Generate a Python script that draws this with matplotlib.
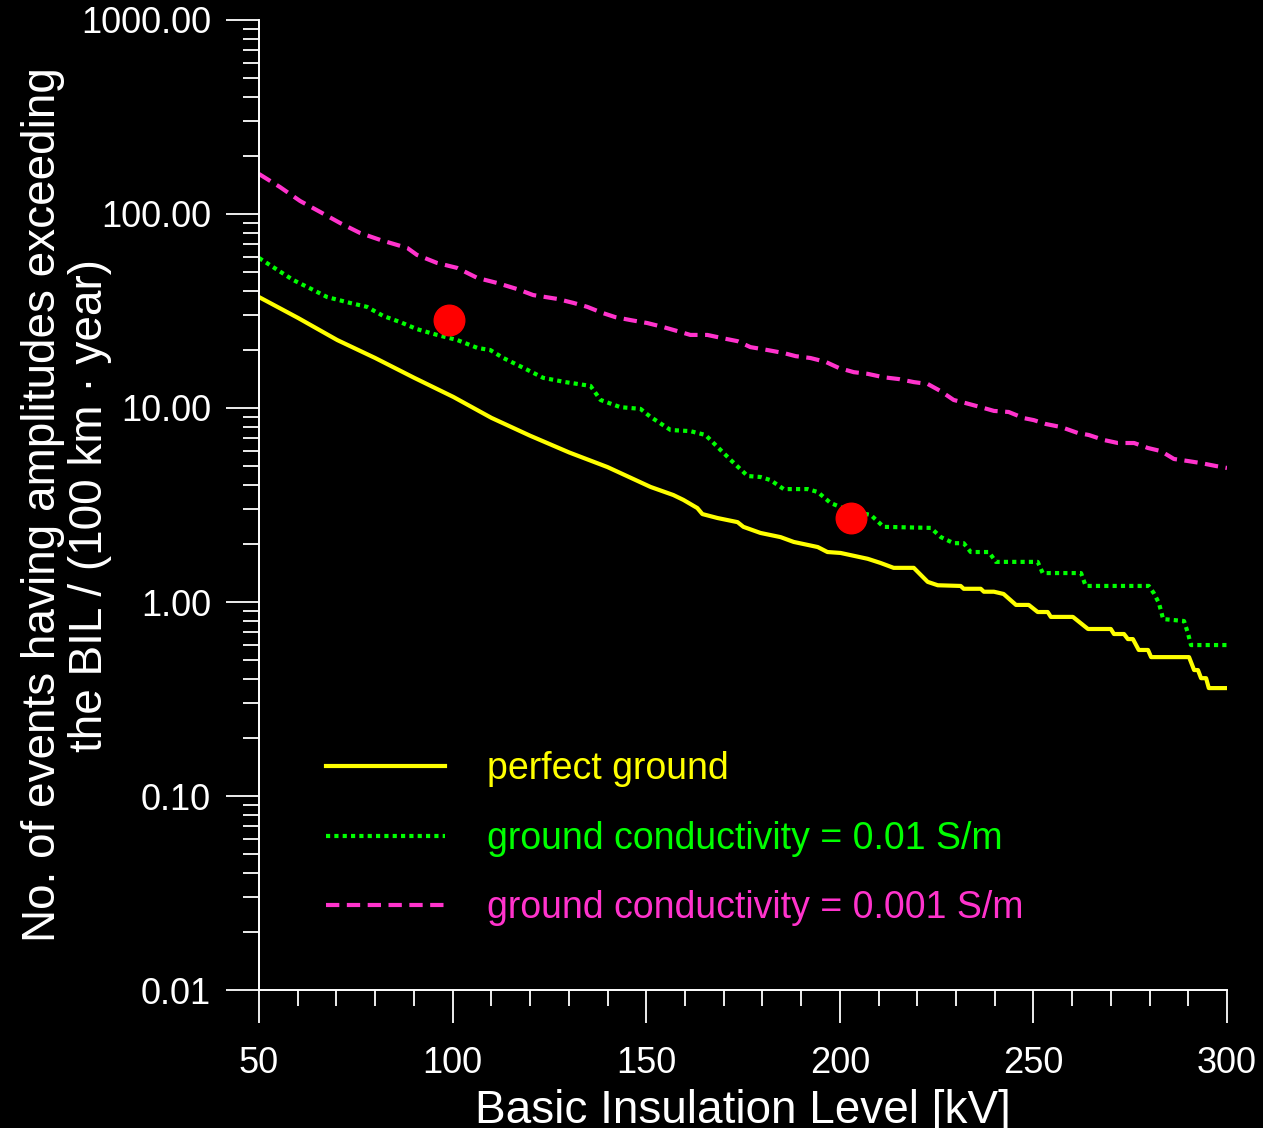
# BIL exceedance curves for three ground conditions

import matplotlib
matplotlib.use('Agg')
import matplotlib.pyplot as plt
from matplotlib.ticker import FixedLocator, FormatStrFormatter, LogLocator, NullFormatter, MultipleLocator

plt.rcParams['font.family'] = ['Liberation Sans', 'DejaVu Sans']

# perfect ground
yellow_x = [50, 60.1, 70.2, 80, 90.1, 100.2, 110, 120, 130.1, 140, 151.1, 157.0, 159.6, 163.2,
            164.5, 168.4, 173.6, 175.1, 179.5, 184.7, 188.1, 194.3, 196.8, 200.2, 207.2, 210.5,
            213.9, 219.1, 220.9, 222.7, 225.3, 231.2, 232, 236.4, 237.2, 239.8, 242.3, 245.5,
            248.8, 251.1, 253.7, 254.5, 260.2, 264.1, 270, 270.8, 273.4, 274.4, 275.7, 277.2,
            279.6, 280.4, 290.2, 291.5, 292.5, 293.3, 294.6, 295.3, 300]
yellow_y = [37.3, 29.1, 22.4, 18.1, 14.3, 11.4, 8.9, 7.2, 5.9, 4.96, 3.92, 3.56, 3.36, 3.05,
            2.84, 2.71, 2.58, 2.44, 2.27, 2.16, 2.04, 1.92, 1.81, 1.79, 1.67, 1.59,
            1.50, 1.50, 1.38, 1.27, 1.22, 1.21, 1.17, 1.17, 1.13, 1.13, 1.10, 0.966,
            0.966, 0.888, 0.888, 0.838, 0.838, 0.726, 0.726, 0.684, 0.684, 0.644, 0.644, 0.566,
            0.566, 0.520, 0.520, 0.446, 0.446, 0.405, 0.405, 0.360, 0.360]

# ground conductivity = 0.01 S/m
green_x = [50, 53.6, 58.8, 64.0, 67.6, 73.5, 77.9, 82.1, 86.5, 90.8, 96.0, 101.2, 106.4, 109.7,
           113.1, 118.3, 123.4, 129.1, 135.6, 138.2, 143.3, 148.5, 151.1, 156.3, 161.4, 165.3,
           168.4, 171.8, 176.2, 179.5, 182.1, 185.5, 191.7, 194.3, 197.6, 202.8, 208.0, 211.3,
           223.5, 226.1, 229.4, 232.0, 233.8, 238.5, 240.3, 251.1, 252.4, 262.3, 263.5, 279.8,
           281.1, 282.4, 283.5, 288.9, 289.9, 290.7, 300]
green_y = [59.3, 53.3, 45.7, 40.6, 37.3, 34.8, 33.2, 29.8, 27.7, 25.5, 23.8, 22.4, 20.4, 19.9,
           18.1, 16.1, 14.3, 13.6, 13.0, 11.0, 10.1, 9.9, 9.0, 7.7, 7.6, 7.26,
           6.3, 5.4, 4.46, 4.41, 4.25, 3.82, 3.82, 3.69, 3.24, 2.94, 2.81, 2.44,
           2.41, 2.16, 2.01, 2.01, 1.81, 1.81, 1.61, 1.61, 1.41, 1.41, 1.21, 1.21,
           1.11, 0.99, 0.817, 0.798, 0.692, 0.600, 0.600]

# ground conductivity = 0.001 S/m
magenta_x = [50, 55.4, 60.6, 65.8, 70.9, 76.1, 81.3, 88.3, 90.8, 96.0, 101.2, 106.4, 111.5,
             116.7, 120.8, 127.0, 131.2, 134.8, 138.7, 142.0, 145.9, 150.3, 154.2, 158.1,
             161.4, 165.8, 169.7, 173.6, 176.9, 181.3, 185.5, 188.6, 192.4, 196.3, 199.7,
             203.6, 207.2, 211.3, 215.2, 219.1, 222.7, 226.1, 229.4, 232.5, 236.4, 239.8,
             243.6, 247.5, 250.1, 253.2, 257.1, 261.5, 264.3, 268.2, 271.8, 276.0, 279.6,
             282.9, 286.3, 289.9, 293.3, 297.2, 300]
magenta_y = [160.7, 137.7, 116.7, 102.4, 89.9, 79.8, 73.5, 66.8, 61.5, 55.9, 52.7, 46.8, 44.1,
             41.0, 38.2, 36.5, 34.8, 33.2, 30.9, 29.4, 28.4, 27.4, 26.2, 24.9,
             23.8, 23.8, 22.9, 22.1, 20.6, 19.9, 19.2, 18.5, 18.1, 17.3, 16.1,
             15.3, 15.0, 14.4, 14.1, 13.6, 13.3, 12.2, 11.0, 10.6, 10.1, 9.66,
             9.54, 8.87, 8.66, 8.27, 7.98, 7.43, 7.26, 6.84, 6.60, 6.60, 6.22,
             6.00, 5.46, 5.33, 5.20, 5.02, 4.91]

# measured points
dot_x = [99, 203]
dot_y = [28.5, 2.71]

y_ticks = [0.01, 0.1, 1, 10, 100, 1000]
x_ticks = [50, 100, 150, 200, 250, 300]


def main():
    fig = plt.figure(figsize=(12.63, 11.28), dpi=100, facecolor='black')
    ax = fig.add_axes([0.2051, 0.1223, 0.7664, 0.86])
    ax.set_facecolor('black')

    ax.plot(yellow_x, yellow_y, color='#ffff00', lw=3.0, label='perfect ground')
    ax.plot(green_x, green_y, color='#00ff00', lw=3.0, linestyle=(0, (1, 1)),
            label='ground conductivity = 0.01 S/m')
    ax.plot(magenta_x, magenta_y, color='#ff33cc', lw=3.0, linestyle=(0, (3.2, 1.8)),
            label='ground conductivity = 0.001 S/m')
    ax.plot(dot_x, dot_y, 'o', color='#ff0000', markersize=22, zorder=5)

    ax.set_yscale('log')
    ax.set_xlim(50, 300)
    ax.set_ylim(0.01, 1000)

    # 坐标轴样式
    for side in ['top', 'right']:
        ax.spines[side].set_visible(False)
    for side in ['left', 'bottom']:
        ax.spines[side].set_color('white')
        ax.spines[side].set_linewidth(1.4)

    ax.yaxis.set_major_locator(FixedLocator(y_ticks))
    ax.yaxis.set_major_formatter(FormatStrFormatter('%.2f'))
    ax.yaxis.set_minor_locator(LogLocator(base=10, subs=range(2, 10)))
    ax.yaxis.set_minor_formatter(NullFormatter())
    ax.xaxis.set_major_locator(FixedLocator(x_ticks))
    ax.xaxis.set_minor_locator(MultipleLocator(10))

    ax.tick_params(which='major', direction='out', length=23.5, width=1.3, colors='white',
                   labelsize=26)
    ax.tick_params(which='minor', direction='out', length=11.5, width=1.3, colors='white')
    ax.tick_params(axis='y', which='major', pad=11)
    ax.tick_params(axis='x', which='major', pad=17)

    ax.set_xlabel('Basic Insulation Level [kV]', fontsize=33, color='white')
    ax.xaxis.set_label_coords(0.5, -0.102)
    ax.set_ylabel('No. of events having amplitudes exceeding\nthe BIL / (100 km \u00b7 year)',
                  fontsize=33, color='white', va='center', linespacing=1.1)
    ax.yaxis.set_label_coords(-0.199, 0.5)

    ax.legend(loc='upper left', bbox_to_anchor=(0.069, 0.2465), frameon=False,
              fontsize=27, handlelength=3.17, handletextpad=1.12, labelspacing=0.9,
              borderpad=0, borderaxespad=0, labelcolor='linecolor')

    fig.savefig('out.png', dpi=100, facecolor='black')


if __name__ == '__main__':
    main()
